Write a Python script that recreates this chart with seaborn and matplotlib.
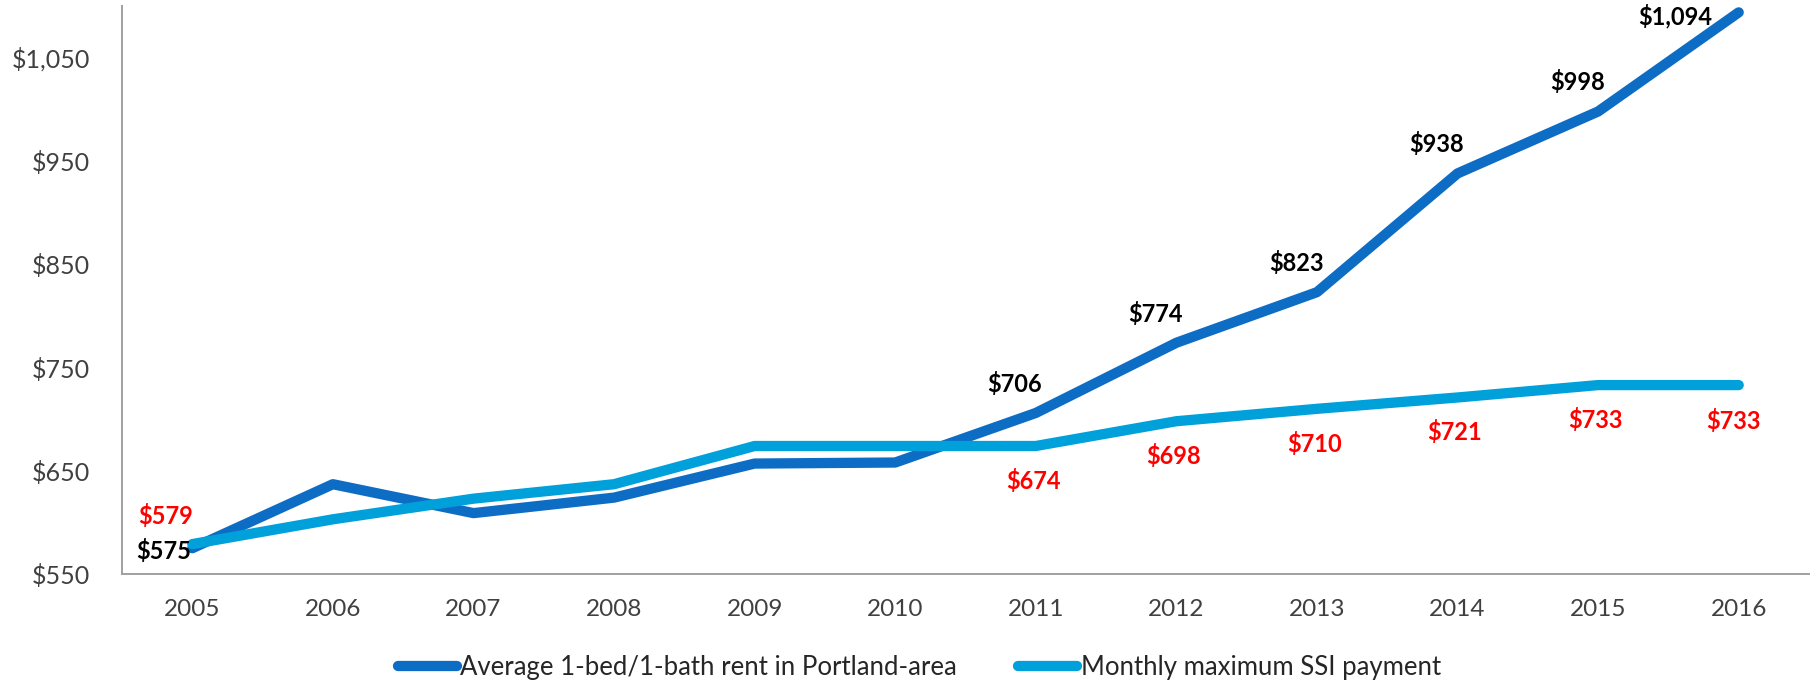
import matplotlib
matplotlib.use("Agg")
import matplotlib.pyplot as plt
import seaborn as sns
import pandas as pd

# values
years = [2005, 2006, 2007, 2008, 2009, 2010, 2011, 2012, 2013, 2014, 2015, 2016]
rent = [575, 637, 609, 624, 657, 658, 706, 774, 823, 938, 998, 1094]
ssi = [579, 603, 623, 637, 674, 674, 674, 698, 710, 721, 733, 733]
rent_name = "Average 1-bed/1-bath rent in Portland-area"
ssi_name = "Monthly maximum SSI payment"
labelled_years = [2005, 2011, 2012, 2013, 2014, 2015, 2016]
y_ticks = [550, 650, 750, 850, 950, 1050]

RENT_COLOR = "#0D6CC4"
SSI_COLOR = "#00A0DA"

df = pd.DataFrame({
    "Year": years * 2,
    "Value": rent + ssi,
    "Series": [rent_name] * len(years) + [ssi_name] * len(years),
})

sns.set_theme(style="white")
plt.rcParams["font.family"] = ["Lato", "DejaVu Sans"]

fig = plt.figure(figsize=(18.13, 6.85), dpi=100)
ax = fig.add_axes([0.0673, 0.162, 0.9305, 0.829])

sns.lineplot(
    data=df, x="Year", y="Value", hue="Series",
    palette={rent_name: RENT_COLOR, ssi_name: SSI_COLOR},
    linewidth=7.4, solid_capstyle="round", ax=ax, legend=True,
)

ax.set_xlim(years[0] - 0.5, years[-1] + 0.5)
ax.set_ylim(550, 1100)
ax.set_xticks(years)
ax.set_xticklabels([str(y) for y in years], fontsize=17.5, color="#404040")
ax.set_yticks(y_ticks)
ax.set_yticklabels([f"${v:,}" for v in y_ticks], fontsize=18, color="#404040")
ax.tick_params(axis="x", length=0, pad=18)
ax.tick_params(axis="y", length=0, pad=23)
ax.set_xlabel("")
ax.set_ylabel("")
for side in ["top", "right"]:
    ax.spines[side].set_visible(False)
for side in ["left", "bottom"]:
    ax.spines[side].set_color("#A0A0A0")
    ax.spines[side].set_linewidth(1.4)

# data labels: rent above-left (black), SSI below (red)
for yr, r, s in zip(years, rent, ssi):
    if yr not in labelled_years:
        continue
    if yr == years[0]:
        r_off, r_ha, r_va = (-1, -2), "right", "center"
        s_off, s_ha, s_va = (-19, 20), "center", "center"
    elif yr == years[-1]:
        r_off, r_ha, r_va = (-46, -3), "center", "center"
        s_off, s_ha, s_va = (-4, -26), "center", "center"
    else:
        r_off, r_ha, r_va = (-15, 21), "center", "center"
        s_off, s_ha, s_va = (-2, -25), "center", "center"
    ax.annotate(f"${r:,}", (yr, r), xytext=r_off, textcoords="offset points",
                ha=r_ha, va=r_va, fontsize=17, fontweight="bold", color="black")
    ax.annotate(f"${s:,}", (yr, s), xytext=s_off, textcoords="offset points",
                ha=s_ha, va=s_va, fontsize=17, fontweight="bold", color="#FF0000")

handles, labels = ax.get_legend_handles_labels()
ax.get_legend().remove()
leg = fig.legend(handles, labels, loc="center", bbox_to_anchor=(0.507, 0.025),
                 ncol=2, frameon=False, fontsize=18.5, handlelength=2.3,
                 handletextpad=0.12, columnspacing=2.4)
for line in leg.get_lines():
    line.set_linewidth(7.4)
    line.set_solid_capstyle("round")
for t in leg.get_texts():
    t.set_color("#262626")

fig.savefig("out.png", dpi=100)
plt.close(fig)
